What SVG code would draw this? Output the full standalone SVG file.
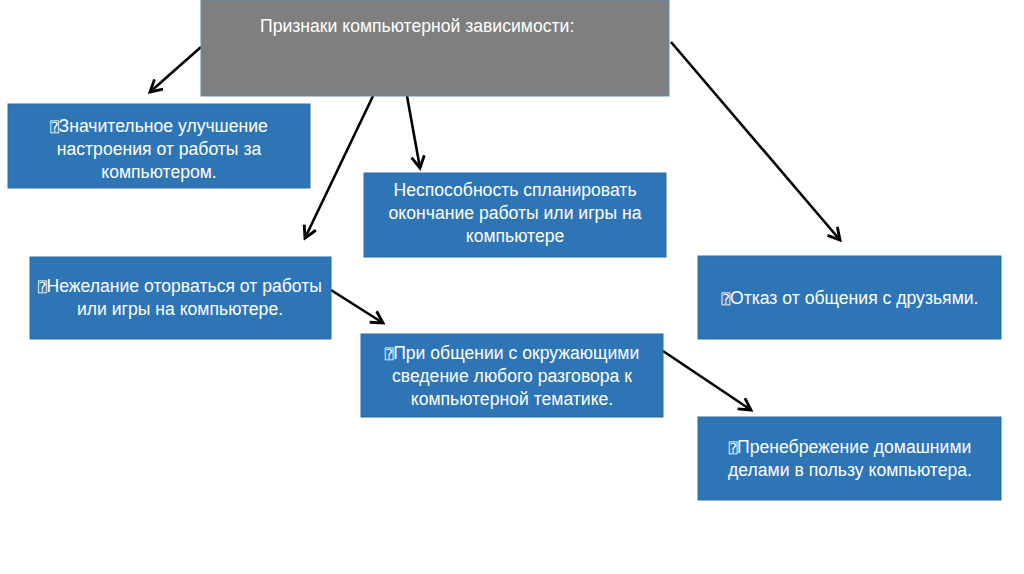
<svg xmlns="http://www.w3.org/2000/svg" width="1024" height="574" viewBox="0 0 1024 574">
<style>
.box{fill:#2e75b6;stroke:#2a6aa6;stroke-width:1}
.t{font-family:"Liberation Sans","Noto Sans",sans-serif;font-size:17.6px;fill:#ffffff;text-anchor:middle}
.b{font-family:"DejaVu Sans Mono","DejaVu Sans",monospace;font-size:14px}
.c{fill:none;stroke:#000;stroke-width:2.6}
</style>
<defs>
<marker id="ah" viewBox="0 0 12 12" refX="10" refY="6" markerWidth="6" markerHeight="6" orient="auto" markerUnits="strokeWidth">
<path d="M1,1 L10,6 L1,11" fill="none" stroke="#000" stroke-width="2.2"/>
</marker>
</defs>
<rect width="1024" height="574" fill="#ffffff"/>
<g id="connectors">
<line class="c" x1="201" y1="47" x2="150" y2="92" marker-end="url(#ah)"/>
<line class="c" x1="373" y1="96" x2="305" y2="238" marker-end="url(#ah)"/>
<line class="c" x1="407" y1="96" x2="420" y2="168" marker-end="url(#ah)"/>
<line class="c" x1="671" y1="42" x2="840" y2="240" marker-end="url(#ah)"/>
<line class="c" x1="331" y1="290" x2="383" y2="323" marker-end="url(#ah)"/>
<line class="c" x1="663" y1="351" x2="751" y2="410" marker-end="url(#ah)"/>
</g>
<g id="title">
<rect x="201" y="0" width="468" height="96" fill="#7f7f7f" stroke="#5b8cc4" stroke-width="1"/>
<text x="260" y="32" font-family="Liberation Sans,Noto Sans,sans-serif" font-size="17.6" fill="#ffffff">Признаки компьютерной зависимости:</text>
</g>
<g id="n1">
<rect class="box" x="8" y="104" width="302" height="84"/>
<text class="t" x="159" y="132"><tspan class="b">⍰</tspan>Значительное улучшение</text>
<text class="t" x="159" y="155">настроения от работы за</text>
<text class="t" x="159" y="178">компьютером.</text>
</g>
<g id="n2">
<rect class="box" x="364" y="173" width="302" height="84"/>
<text class="t" x="515" y="196">Неспособность спланировать</text>
<text class="t" x="515" y="219">окончание работы или игры на</text>
<text class="t" x="515" y="242">компьютере</text>
</g>
<g id="n3">
<rect class="box" x="30" y="257" width="301" height="82"/>
<text class="t" x="180" y="292"><tspan class="b">⍰</tspan>Нежелание оторваться от работы</text>
<text class="t" x="180" y="315">или игры на компьютере.</text>
</g>
<g id="n4">
<rect class="box" x="361" y="334" width="302" height="83"/>
<text class="t" x="512" y="359"><tspan class="b">⍰</tspan>При общении с окружающими</text>
<text class="t" x="512" y="382">сведение любого разговора к</text>
<text class="t" x="512" y="405">компьютерной тематике.</text>
</g>
<g id="n5">
<rect class="box" x="698" y="256" width="303" height="83"/>
<text class="t" x="850" y="304"><tspan class="b">⍰</tspan>Отказ от общения с друзьями.</text>
</g>
<g id="n6">
<rect class="box" x="698" y="417" width="303" height="83"/>
<text class="t" x="850" y="453"><tspan class="b">⍰</tspan>Пренебрежение домашними</text>
<text class="t" x="850" y="476">делами в пользу компьютера.</text>
</g>
</svg>
